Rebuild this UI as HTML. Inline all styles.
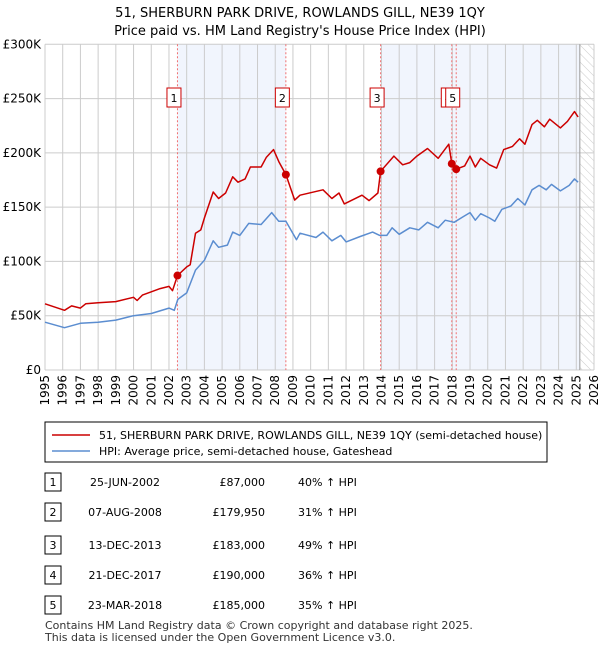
<!DOCTYPE html>
<html><head><meta charset="utf-8"><style>
body{margin:0;background:#fff;font-family:"Liberation Sans",sans-serif;}
svg text{font-family:"DejaVu Sans","Liberation Sans",sans-serif;}
</style></head><body>
<svg width="600" height="650" xmlns="http://www.w3.org/2000/svg">
<defs><pattern id="hatch" width="6" height="6" patternUnits="userSpaceOnUse" patternTransform="rotate(-45)"><line x1="0" y1="0" x2="0" y2="6" stroke="#ccc" stroke-width="1"/></pattern></defs>
<text x="300" y="17" text-anchor="middle" font-size="13">51, SHERBURN PARK DRIVE, ROWLANDS GILL, NE39 1QY</text>
<text x="300" y="35" text-anchor="middle" font-size="13">Price paid vs. HM Land Registry's House Price Index (HPI)</text>
<g id="plot"></g>
<g id="legend">
<rect x="45" y="422" width="502" height="40" fill="#fff" stroke="#000" stroke-width="1"/>
<line x1="52" y1="435" x2="90" y2="435" stroke="#cc0000" stroke-width="1.5"/>
<text x="99" y="439" font-size="11">51, SHERBURN PARK DRIVE, ROWLANDS GILL, NE39 1QY (semi-detached house)</text>
<line x1="52" y1="451" x2="90" y2="451" stroke="#5b8dd0" stroke-width="1.5"/>
<text x="99" y="455" font-size="11">HPI: Average price, semi-detached house, Gateshead</text>
</g>
<g id="table" font-size="11"></g>
<text x="45" y="629" font-size="11" fill="#333">Contains HM Land Registry data © Crown copyright and database right 2025.</text>
<text x="45" y="641" font-size="11" fill="#333">This data is licensed under the Open Government Licence v3.0.</text>
</svg>
<script>
const yearTicks=[1995,1996,1997,1998,1999,2000,2001,2002,2003,2004,2005,2006,2007,2008,2009,2010,2011,2012,2013,2014,2015,2016,2017,2018,2019,2020,2021,2022,2023,2024,2025,2026];
const yTicks=[0,50000,100000,150000,200000,250000,300000];
const yLabels=["£0","£50K","£100K","£150K","£200K","£250K","£300K"];
const saleDates=[2002.48,2008.6,2013.95,2017.97,2018.22];
const salePrices=[87000,179950,183000,190000,185000];
const saleDateLabels=["25-JUN-2002","07-AUG-2008","13-DEC-2013","21-DEC-2017","23-MAR-2018"];
const salePriceLabels=["£87,000","£179,950","£183,000","£190,000","£185,000"];
const saleHpiLabels=["40% ↑ HPI","31% ↑ HPI","49% ↑ HPI","36% ↑ HPI","35% ↑ HPI"];
const redT=[1995,1996.1,1996.5,1997,1997.3,1998,1999,2000,2000.2,2000.5,2001,2001.5,2002,2002.2,2002.48,2003,2003.2,2003.5,2003.8,2004,2004.5,2004.8,2005.2,2005.6,2005.9,2006.3,2006.6,2007.2,2007.5,2007.9,2008.2,2008.6,2009.1,2009.4,2010.7,2011.2,2011.6,2011.9,2012.9,2013.3,2013.8,2013.95,2014.7,2015.2,2015.6,2016,2016.6,2017.2,2017.8,2017.97,2018.22,2018.7,2019,2019.3,2019.6,2020.1,2020.5,2020.9,2021.4,2021.8,2022.1,2022.5,2022.8,2023.2,2023.5,2024.1,2024.5,2024.9,2025.1];
const redV=[61,55,59,57,61,62,63,67,64,69,72,75,77,73,87,95,97,126,129,140,164,158,163,178,173,176,187,187,196,203,192,180,156.5,161,166,158,163,153,161,156,163,183,197,189,191,197,204,195,208,190,185,188,197,187,195,189,186,203,206,213,208,226,230,224,231,223,229,238,233];
const hpiT=[1995,1996.1,1997,1998,1999,2000,2001,2002,2002.3,2002.5,2003,2003.5,2004,2004.5,2004.8,2005.3,2005.6,2006,2006.5,2007.2,2007.8,2008.2,2008.6,2009.2,2009.4,2010.3,2010.7,2011.2,2011.7,2012,2012.8,2013.5,2013.9,2014.3,2014.6,2015,2015.6,2016.1,2016.6,2017.2,2017.6,2018.1,2018.6,2019,2019.3,2019.6,2020.1,2020.4,2020.8,2021.3,2021.7,2022.1,2022.5,2022.9,2023.3,2023.6,2024.1,2024.6,2024.9,2025.1];
const hpiV=[44,39,43,44,46,50,52,57,55,65,71,92,101,119,113,115,127,124,135,134,145,137,137,120,126,122,127,119,124,118,123,127,124,124,131,125,131,129,136,131,138,136,141,145,138,144,140,137,148,151,158,152,166,170,166,171,165,170,176,173];

const X0=45,X1=594,Y0=370,Y1=44.3;
const xs=t=>X0+(t-1995)/(2026-1995)*(X1-X0);
const ys=v=>Y0-v/300000*(Y0-Y1);
const NS="http://www.w3.org/2000/svg";
function mk(tag,attrs,parent){const e=document.createElementNS(NS,tag);for(const k in attrs)e.setAttribute(k,attrs[k]);parent.appendChild(e);return e;}
const plot=document.getElementById('plot');
// shading
let s1=mk('rect',{x:xs(saleDates[0]),y:Y1,width:xs(saleDates[1])-xs(saleDates[0]),height:Y0-Y1,fill:'#eef3fc',opacity:0.8},plot);


let s2=mk('rect',{x:xs(saleDates[2]),y:Y1,width:xs(2025.2)-xs(saleDates[2]),height:Y0-Y1,fill:'#eef3fc',opacity:0.8},plot);


let hz=mk('rect',{x:xs(2025.2),y:Y1,width:X1-xs(2025.2),height:Y0-Y1,fill:'url(#hatch)'},plot);


// grid
yearTicks.forEach(t=>{const x=xs(t);
 const l=mk('line',{x1:x,y1:Y1,x2:x,y2:Y0,stroke:'#ccc','stroke-width':1},plot);
 
 
 const tx=mk('text',{x:0,y:0,'font-size':12,'text-anchor':'end',transform:`translate(${x+4},${Y0+5}) rotate(-90)`},plot);
 tx.textContent=t;
 
 
});
yTicks.forEach((v,i)=>{const y=ys(v);
 const l=mk('line',{x1:X0,y1:y,x2:X1,y2:y,stroke:'#ccc','stroke-width':1},plot);
 
 
 const tx=mk('text',{x:X0-4,y:y+4,'font-size':12,'text-anchor':'end'},plot);
 tx.textContent=yLabels[i];
 
 
});
const ed=mk('line',{x1:xs(2025.2),y1:Y1,x2:xs(2025.2),y2:Y0,stroke:'#999','stroke-width':1},plot);


// sale lines
saleDates.forEach((d,i)=>{const x=xs(d);
 const l=mk('line',{x1:x,y1:Y1,x2:x,y2:Y0,stroke:'#f07070','stroke-width':1,'stroke-dasharray':'2,2'},plot);
 
 
});
function path(T,V,col,name){let d='';T.forEach((t,i)=>{d+=(i?'L':'M')+xs(t).toFixed(1)+','+ys(V[i]*1000).toFixed(1);});
 const p=mk('path',{d:d,fill:'none',stroke:col,'stroke-width':1.5,'stroke-linejoin':'round'},plot);
 
 }
path(hpiT,hpiV,'#5b8dd0','hpi-line');
path(redT,redV,'#cc0000','property-price-line');
saleDates.forEach((d,i)=>{
 const c=mk('circle',{cx:xs(d),cy:ys(salePrices[i]),r:4,fill:'#cc0000'},plot);
 
 
});
saleDates.forEach((d,i)=>{const x=xs(d)-3.5;
 const g=mk('g',{},plot);
 
 
 mk('rect',{x:x-7,y:88,width:14,height:19,fill:'#fff',stroke:'#cc0000','stroke-width':1},g);
 const t=mk('text',{x:x,y:102,'font-size':11,'text-anchor':'middle'},g);t.textContent=i+1;
});
const tb=document.getElementById('table');
const rowY=[482,512,545,575,605];
saleDates.forEach((d,i)=>{const y=rowY[i];
 const g=mk('g',{},tb);
 
 
 mk('rect',{x:45,y:y-9,width:16,height:18,fill:'#fff',stroke:'#000','stroke-width':1},g);
 let t=mk('text',{x:53,y:y+4,'text-anchor':'middle'},g);t.textContent=i+1;
 t=mk('text',{x:125,y:y+4,'text-anchor':'middle'},g);t.textContent=saleDateLabels[i];
 t=mk('text',{x:265,y:y+4,'text-anchor':'end'},g);t.textContent=salePriceLabels[i];
 t=mk('text',{x:298,y:y+4},g);t.textContent=saleHpiLabels[i];
});
</script>
</body></html>
